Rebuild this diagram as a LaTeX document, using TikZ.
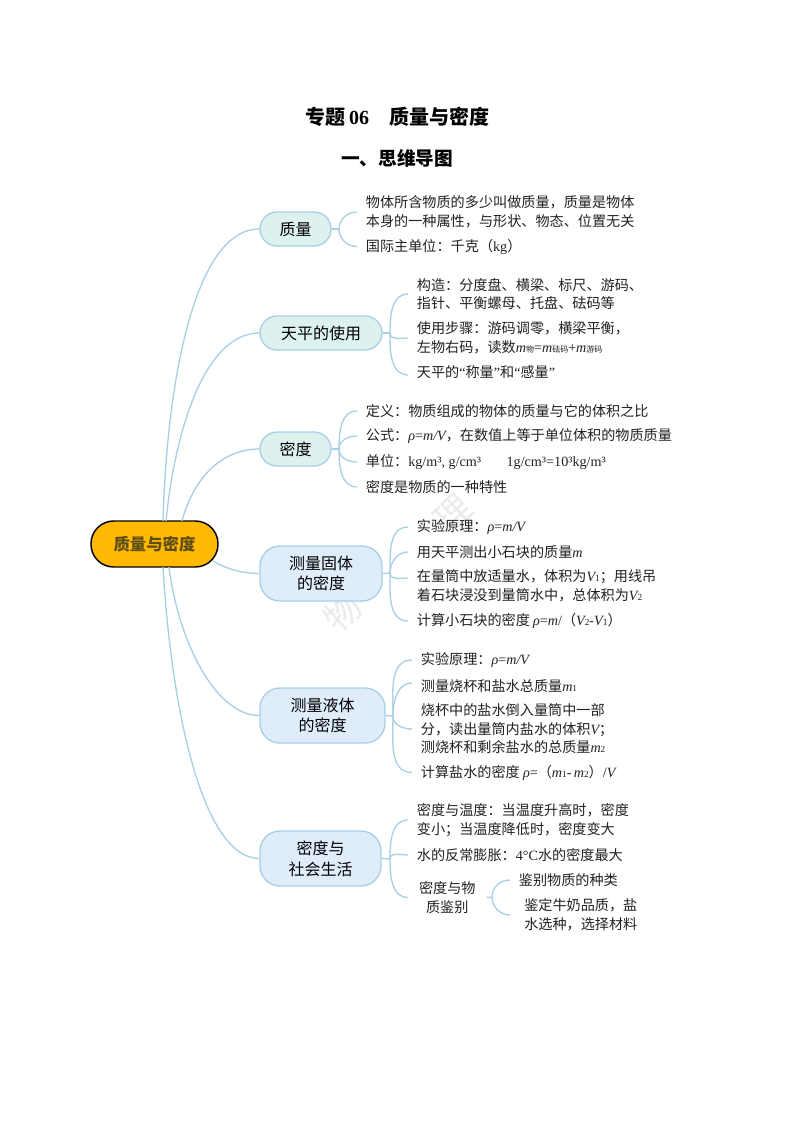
\documentclass[tikz,border=0pt]{standalone}
\usepackage{fontspec}
\usetikzlibrary{calc}
\setmainfont{Noto Sans CJK SC}
\newfontfamily\ltn{Liberation Serif}
\newcommand{\lt}[1]{{\ltn #1}}
\newcommand{\vi}[1]{{\ltn\itshape #1}}
\newcommand{\sm}[1]{{\fontsize{6}{7}\selectfont #1}}
\newcommand{\smv}[1]{{\ltn\fontsize{7}{8}\selectfont #1}}
\definecolor{linkc}{HTML}{A9CFE6}
\definecolor{greenf}{HTML}{DDF1EE}
\definecolor{bluef}{HTML}{DFEDFB}
\definecolor{rootf}{HTML}{FFB900}
\definecolor{roott}{HTML}{5E4E14}
\definecolor{bodyt}{HTML}{222222}
\begin{document}
\begin{tikzpicture}[x=0.75pt,y=-0.75pt,
  link/.style={draw=linkc,line width=1pt},
  armup/.style={out=90,in=180},
  armdn/.style={out=-90,in=180},
  rootbox/.style={rounded corners=17pt,draw=black,line width=1.1pt,fill=rootf,inner sep=0pt,
    font=\fontsize{12.3}{15}\selectfont\bfseries,text=roott},
  topicbox/.style={draw=linkc,line width=1pt,inner sep=0pt,align=center,
    font=\fontsize{12}{15.5}\selectfont,text=black},
  greenbox/.style={topicbox,fill=greenf,rounded corners=12.7pt},
  bluebox/.style={topicbox,fill=bluef,rounded corners=15pt},
  info/.style={anchor=west,inner xsep=6.5pt,inner ysep=0pt,align=left,text=bodyt,
    font=\fontsize{10.6}{13.9}\selectfont},
  titletext/.style={inner sep=0pt,text=black,font=\bfseries}]
\useasboundingbox (0,0) rectangle (794,1123);
\fill[white] (0,0) rectangle (794,1123);

% watermark
\node[rotate=42,inner sep=0pt,text=black!8,font=\fontsize{27}{30}\selectfont] (wm) at (398,563) {物\hspace{84pt}理};

% titles
\node[titletext,font=\fontsize{15}{18}\selectfont\bfseries] (t1) at (397.5,117) {专题\,{\ltn\bfseries 06}\hspace{1em}质量与密度};
\node[titletext,font=\fontsize{14}{17}\selectfont\bfseries] (t2) at (397,158) {一、思维导图};

% main nodes
\node[rootbox,minimum width=95.25pt,minimum height=34.5pt] (root) at (154.5,544) {质量与密度};
\node[greenbox,minimum width=53.25pt,minimum height=25.5pt] (n1) at (295.5,229) {质量};
\node[greenbox,minimum width=91.5pt,minimum height=25.5pt] (n2) at (321,333) {天平的使用};
\node[greenbox,minimum width=53.25pt,minimum height=25.5pt] (n3) at (295.5,449) {密度};
\node[bluebox,minimum width=91.5pt,minimum height=41.25pt] (n4) at (321,573.5) {测量固体\\的密度};
\node[bluebox,minimum width=93.75pt,minimum height=41.25pt] (n5) at (322.5,715.5) {测量液体\\的密度};
\node[bluebox,minimum width=90.75pt,minimum height=41.25pt] (n6) at (320.5,858.5) {密度与\\社会生活};

% root exits
\coordinate (r1) at (163,521);
\coordinate (r2) at (166,521);
\coordinate (r3) at (182,521);
\coordinate (r4) at (213,561);
\coordinate (r5) at (169,567);
\coordinate (r6) at (163,567);

% hubs
\coordinate (h1) at (339,229);
\coordinate (h2) at (390,333);
\coordinate (h3) at (339,449);
\coordinate (h4) at (390,573);
\coordinate (h5) at (393,716);
\coordinate (h6) at (390,859);
\coordinate (h7) at (492,897);

% texts
\node[info] (a1) at (357,212) {物体所含物质的多少叫做质量，质量是物体\\本身的一种属性，与形状、物态、位置无关};
\node[info] (a2) at (357,246.5) {国际主单位：千克（\lt{kg}）};

\node[info] (b1) at (408,294) {构造：分度盘、横梁、标尺、游码、\\指针、平衡螺母、托盘、砝码等};
\node[info] (b2) at (408,338) {使用步骤：游码调零，横梁平衡，\\左物右码，读数\vi{m}\sm{物}\lt{=}\vi{m}\sm{砝码}\lt{+}\vi{m}\sm{游码}};
\node[info] (b3) at (408,372) {天平的\lt{“}称量\lt{”}和\lt{“}感量\lt{”}};

\node[info] (c1) at (357,411) {定义：物质组成的物体的质量与它的体积之比};
\node[info] (c2) at (357,436) {公式：\vi{ρ}\lt{=}\vi{m/V}，在数值上等于单位体积的物质质量};
\node[info] (c3) at (357,462) {单位：\lt{kg/m³, g/cm³\hspace{1.8em}1g/cm³=10³kg/m³}};
\node[info] (c4) at (357,487) {密度是物质的一种特性};

\node[info] (d1) at (408,527) {实验原理：\vi{ρ}\lt{=}\vi{m/V}};
\node[info] (d2) at (408,552) {用天平测出小石块的质量\vi{m}};
\node[info] (d3) at (408,586) {在量筒中放适量水，体积为\vi{V}\smv{1}；用线吊\\着石块浸没到量筒水中，总体积为\vi{V}\smv{2}};
\node[info] (d4) at (408,621) {计算小石块的密度 \vi{ρ}\lt{=}\vi{m}\lt{/}（\vi{V}\smv{2}\lt{-}\vi{V}\smv{1}）};

\node[info] (e1) at (412,660) {实验原理：\vi{ρ}\lt{=}\vi{m/V}};
\node[info] (e2) at (412,686) {测量烧杯和盐水总质量\vi{m}\smv{1}};
\node[info] (e3) at (412,729) {烧杯中的盐水倒入量筒中一部\\分，读出量筒内盐水的体积\vi{V}；\\测烧杯和剩余盐水的总质量\vi{m}\smv{2}};
\node[info] (e4) at (412,772.5) {计算盐水的密度 \vi{ρ}\lt{=}（\vi{m}\smv{1}\lt{-}\,\vi{m}\smv{2}）\lt{/}\vi{V}};

\node[info] (f1) at (408,820) {密度与温度：当温度升高时，密度\\变小；当温度降低时，密度变大};
\node[info] (f2) at (408,855) {水的反常膨胀：\lt{4°C}水的密度最大};
\node[info,align=center,minimum width=58.5pt,inner xsep=0pt] (f3) at (408,897.5) {密度与物\\质鉴别};

\node[info] (g1) at (510,880) {鉴别物质的种类};
\node[info,inner xsep=10.5pt] (g2) at (510,915) {鉴定牛奶品质，盐\\水选种，选择材料};

% root to topics
\draw[link] (r1) .. controls (167,380) and (195,229) .. (n1.west);
\draw[link] (r2) .. controls (175,430) and (205,333) .. (n2.west);
\draw[link] (r3) .. controls (193,480) and (220,449) .. (n3.west);
\draw[link] (r4) .. controls (228,570) and (245,573.5) .. (n4.west);
\draw[link] (r5) .. controls (178,640) and (215,715.5) .. (n5.west);
\draw[link] (r6) .. controls (172,720) and (205,858.5) .. (n6.west);

% topics to details
\draw[link] (n1.east) -- (h1);
\draw[link] (h1) to[armup] (a1.west);
\draw[link] (h1) to[armdn] (a2.west);
\draw[link] (n2.east) -- (h2);
\draw[link] (h2) to[armup] (b1.west);
\draw[link] (h2) to[armdn] (b2.west);
\draw[link] (h2) to[armdn] ($(b3.west)+(0,3)$);
\draw[link] (n3.east) -- (h3);
\draw[link] (h3) to[armup] (c1.west);
\draw[link] (h3) to[armup] (c2.west);
\draw[link] (h3) to[armdn] (c3.west);
\draw[link] (h3) to[armdn] (c4.west);
\draw[link] (n4.east) -- (h4);
\draw[link] (h4) to[armup] (d1.west);
\draw[link] (h4) to[armup] (d2.west);
\draw[link] (h4) to[armdn] ($(d3.west)+(0,-8)$);
\draw[link] (h4) to[armdn] (d4.west);
\draw[link] (n5.east) -- (h5);
\draw[link] (h5) to[armup] (e1.west);
\draw[link] (h5) to[armup] ($(e2.west)+(0,-3)$);
\draw[link] (h5) to[armdn] (e3.west);
\draw[link] (h5) to[armdn] (e4.west);
\draw[link] (n6.east) -- (h6);
\draw[link] (h6) to[armup] (f1.west);
\draw[link] (h6) to[armup] (f2.west);
\draw[link] (h6) to[armdn] (f3.west);
\draw[link] (f3.east) -- (h7);
\draw[link] (h7) to[armup] (g1.west);
\draw[link] (h7) to[armdn] (g2.west);
\end{tikzpicture}
\end{document}
